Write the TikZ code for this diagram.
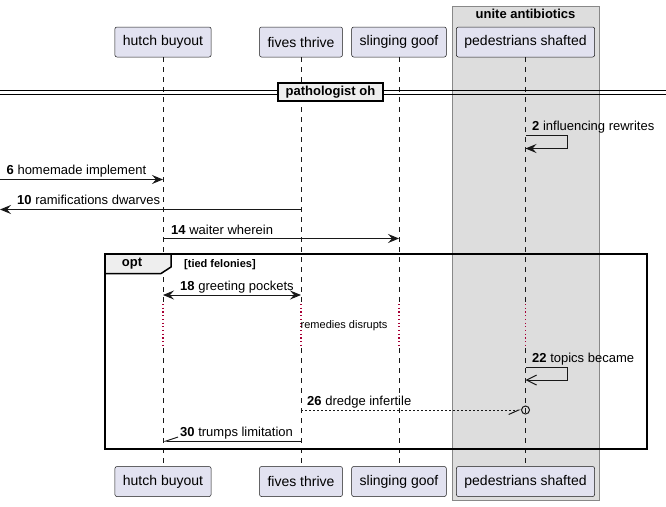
\documentclass[tikz,border=0pt]{standalone}
\usepackage{fontspec}
\setmainfont{Liberation Sans}
\usetikzlibrary{arrows.meta}

\definecolor{partfill}{HTML}{E2E2F0}
\definecolor{lineblack}{HTML}{181818}
\definecolor{boxgray}{HTML}{DDDDDD}
\definecolor{boxedge}{HTML}{888888}
\definecolor{tabfill}{HTML}{EEEEEE}
\definecolor{delayred}{HTML}{A80036}

\begin{document}
\begin{tikzpicture}[x=1pt, y=-1pt]
\tikzset{ >={Stealth[length=11pt, width=9pt, inset=4pt]},
  part/.style={draw=lineblack, fill=partfill, line width=0.5pt, rounded corners=2pt,
    minimum height=30pt, inner xsep=8pt, font=\fontsize{14}{16}\selectfont},
  life/.style={lineblack, line width=0.5pt, dash pattern=on 5pt off 5pt},
  delay/.style={delayred, line width=1.2pt, dash pattern=on 1.2pt off 2.5pt},
  msg/.style={lineblack, line width=1pt},
  lbl/.style={anchor=base west, inner sep=0pt, font=\fontsize{13}{15}\selectfont},
  bold13/.style={font=\bfseries\fontsize{13}{15}\selectfont},
}

\useasboundingbox (0,0) rectangle (666,506);

%\draw [lightgray, dashed](0,0) grid (666,506);

% box round the last participant
\draw [fill=boxgray, draw=boxedge, line width=1pt] (452,6) rectangle (599.5,500);
\node [bold13] (UA) at (525.5,14) {unite antibiotics};

\node [part] (HBt) at (163,42)   {hutch buyout};
\node [part] (FTt) at (301,42)   {fives thrive};
\node [part] (SGt) at (399,42)   {slinging goof};
\node [part] (PSt) at (525.5,42) {pedestrians shafted};

\node [part] (HBb) at (163,481.5)   {hutch buyout};
\node [part] (FTb) at (301,481.5)   {fives thrive};
\node [part] (SGb) at (399,481.5)   {slinging goof};
\node [part] (PSb) at (525.5,481.5) {pedestrians shafted};

% lifelines, dotted during the delay
\coordinate (D1) at (0,304);
\coordinate (D2) at (0,348);

\draw [life]  (HBt)       -- (HBt |- D1);
\draw [delay] (HBt |- D1) -- (HBt |- D2);
\draw [life]  (HBt |- D2) -- (HBb);
\draw [life]  (FTt)       -- (FTt |- D1);
\draw [delay] (FTt |- D1) -- (FTt |- D2);
\draw [life]  (FTt |- D2) -- (FTb);
\draw [life]  (SGt)       -- (SGt |- D1);
\draw [delay] (SGt |- D1) -- (SGt |- D2);
\draw [life]  (SGt |- D2) -- (SGb);
\draw [life]  (PSt)       -- (PSt |- D1);
\draw [delay] (PSt |- D1) -- (PSt |- D2);
\draw [life]  (PSt |- D2) -- (PSb);

% divider
\coordinate (SepL) at (0,92);
\coordinate (SepR) at (666,92);
\draw [line width=1pt] ([yshift=2pt]SepL)  -- ([yshift=2pt]SepR);
\draw [line width=1pt] ([yshift=-2pt]SepL) -- ([yshift=-2pt]SepR);
\node [bold13, draw, line width=2pt, fill=tabfill, minimum height=18pt, inner xsep=7.5pt] (PO) at (330.5,92) {pathologist oh};

% messages
\coordinate (M2a) at (0,135);
\coordinate (M2b) at (0,148.5);
\draw [msg, ->] (PSt |- M2a) -- ++(42,0) |- (PSt |- M2b);
\node [lbl] (L2) at (532,130) {\textbf{2} influencing rewrites};

\coordinate (M6) at (0,179.5);
\draw [msg, ->] (M6) -- (HBt |- M6);
\node [lbl] (L6) at (6.5,174.5) {\textbf{6} homemade implement};

\coordinate (M10) at (0,209.5);
\draw [msg, ->] (FTt |- M10) -- (M10);
\node [lbl] (L10) at (17,204.5) {\textbf{10} ramifications dwarves};

\coordinate (M14) at (0,238.5);
\draw [msg, ->] (HBt |- M14) -- (SGt |- M14);
\node [lbl] (L14) at (171,234) {\textbf{14} waiter wherein};

% opt fragment
\draw [line width=1.5pt] (105,254) rectangle (647,449);
\draw [fill=tabfill, line width=1.5pt] (105,254) -- (171,254) -- (171,267) -- (161,273.5) -- (105,273.5) -- cycle;
\node [bold13] (OPT) at (132,264) {opt};
\node [anchor=west, inner sep=0pt, font=\bfseries\fontsize{11}{13}\selectfont] (COND) at (184,265) {[tied felonies]};

\coordinate (M18) at (0,295);
\draw [msg, <->] (HBt |- M18) -- (FTt |- M18);
\node [lbl] (L18) at (180,290) {\textbf{18} greeting pockets};

\node [anchor=west, inner sep=0pt, font=\fontsize{11}{13}\selectfont] (DLY) at (300.5,326) {remedies disrupts};

\coordinate (M22a) at (0,367.5);
\coordinate (M22b) at (0,380);
\draw [msg, -{Straight Barb[length=10pt, width=10pt]}] (PSt |- M22a) -- ++(42,0) |- (PSt |- M22b);
\node [lbl] (L22) at (532,362) {\textbf{22} topics became};

\coordinate (M26) at (0,410);
\node [circle, draw=lineblack, line width=1pt, inner sep=0pt, minimum size=8pt] (LOST) at (PSt |- M26) {};
\draw [msg, dash pattern=on 2pt off 2pt, -{Straight Barb[harpoon, swap, length=10pt, width=9pt]}] (FTt |- M26) -- (LOST);
\node [lbl] (L26) at (307,405) {\textbf{26} dredge infertile};

\coordinate (M30) at (0,441);
\draw [msg, -{Straight Barb[harpoon, swap, length=12pt, width=8pt]}] (FTt |- M30) -- (HBt |- M30);
\node [lbl] (L30) at (180,436) {\textbf{30} trumps limitation};

\end{tikzpicture}
\end{document}
